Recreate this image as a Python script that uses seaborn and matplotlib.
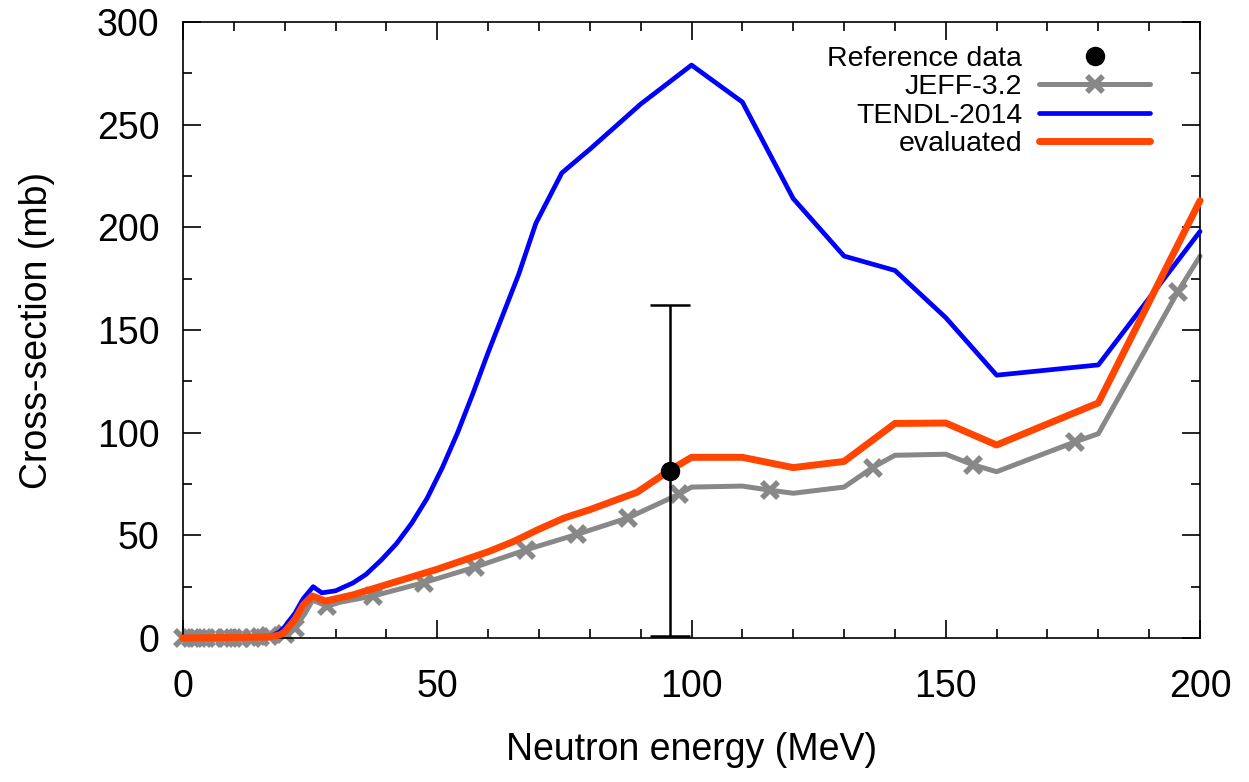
import numpy as np
import pandas as pd
import seaborn as sns
import matplotlib.pyplot as plt
from matplotlib.ticker import MultipleLocator
from matplotlib.lines import Line2D

# reference measurement
ref_e = [95.8]
ref_xs = [81.5]
ref_err = [80.7]

# JEFF-3.2
jeff_e = [0, 1.5, 3, 4.6, 6.3, 8.2, 9.8, 11.5, 13.5, 15.2, 17, 20, 22, 24, 25.5, 28.3, 31,
          37.4, 47.4, 57.4, 67.5, 77.5, 87.5, 97.5, 100, 110, 115.4, 120, 130, 135.6, 140,
          150, 155.4, 160, 175.4, 180, 195.6, 200]
jeff_xs = [0, 0, 0, 0, 0, 0, 0, 0, 0, 0.3, 0.8, 2, 5, 12, 18.5, 15.5, 17.5,
           20.5, 27, 34.5, 43, 50.5, 58.5, 70, 73.5, 74, 72, 70.5, 73.5, 83, 89,
           89.5, 84.3, 81, 95.5, 99.5, 168.5, 186]
jeff_marked = [0, 1.5, 3, 4.6, 6.3, 8.2, 9.8, 11.5, 13.5, 15.2, 17, 20, 22, 28.3,
               37.4, 47.4, 57.4, 67.5, 77.5, 87.5, 97.5, 115.4, 135.6, 155.4, 175.4, 195.6]

# TENDL-2014
tendl_e = [0, 17, 19, 20, 22, 23.6, 25.6, 27.3, 30, 33.4, 36, 39, 42, 45, 48, 51, 54, 57,
           60, 63, 66, 69.4, 74.5, 80, 90, 100, 110, 120, 130, 140, 150, 160, 180, 200]
tendl_xs = [0, 0.5, 3, 5.5, 12, 19, 25, 22, 23, 26.8, 31, 38, 46, 56, 68, 83, 100, 119,
            139, 158, 177, 202, 226.5, 238, 260, 279, 261, 214, 186, 179, 156, 128, 133, 198]

# evaluated
eval_e = [0, 17, 19, 20, 22, 23.6, 25.4, 28, 33.4, 40, 50, 60, 65, 70, 75, 80, 89.3, 95.8,
          100, 110, 120, 130, 140, 150, 160, 180, 200]
eval_xs = [0, 0.5, 1.5, 3, 9, 16, 20.5, 18, 21, 26, 33.5, 42, 47, 53, 58.5, 62.5, 71, 81.8,
           88, 88, 83, 86, 104.5, 104.7, 94, 114.5, 213]

sns.set_theme(style="ticks")
plt.rcParams['font.family'] = ['Liberation Sans', 'DejaVu Sans']
plt.rcParams['text.color'] = 'black'
plt.rcParams['axes.labelcolor'] = 'black'

GRAY = "#888888"
BLUE = "#0000ff"
ORANGE = "#ff4500"

df_jeff = pd.DataFrame({"E": jeff_e, "xs": jeff_xs})
df_tendl = pd.DataFrame({"E": tendl_e, "xs": tendl_xs})
df_eval = pd.DataFrame({"E": eval_e, "xs": eval_xs})

fig = plt.figure(figsize=(12.49, 7.82), dpi=100)
ax = fig.add_axes([0.1465, 0.1841, 0.8143, 0.7878])

mark_idx = [jeff_e.index(e) for e in jeff_marked]
sns.lineplot(data=df_jeff, x="E", y="xs", ax=ax, color=GRAY, lw=3.6, marker="x",
             markersize=12, markeredgewidth=4, markeredgecolor=GRAY,
             markevery=mark_idx, sort=False, estimator=None, zorder=2, clip_on=False)
sns.lineplot(data=df_tendl, x="E", y="xs", ax=ax, color=BLUE, lw=3.4, sort=False,
             estimator=None, zorder=3, clip_on=False)
sns.lineplot(data=df_eval, x="E", y="xs", ax=ax, color=ORANGE, lw=5.0, sort=False,
             estimator=None, zorder=4, clip_on=False)
ax.errorbar(ref_e, ref_xs, yerr=ref_err, fmt="o", color="black", ms=13, elinewidth=1.8,
            capsize=14.5, capthick=1.8, zorder=5)

ax.set_xlim(0, 200)
ax.set_ylim(0, 300)
ax.xaxis.set_major_locator(MultipleLocator(50))
ax.xaxis.set_minor_locator(MultipleLocator(10))
ax.yaxis.set_major_locator(MultipleLocator(50))
ax.yaxis.set_minor_locator(MultipleLocator(25))
ax.tick_params(which="both", direction="in", top=True, right=True, width=1.2, colors="black")
ax.tick_params(which="major", length=13, labelsize=27)
ax.tick_params(which="minor", length=6.5)
ax.tick_params(axis="x", which="major", pad=22)
ax.tick_params(axis="y", which="major", pad=17)
for s in ax.spines.values():
    s.set_linewidth(1.2)
    s.set_color("black")

ax.set_xlabel("Neutron energy (MeV)", fontsize=27, labelpad=20)
ax.set_ylabel("Cross-section (mb)", fontsize=27, labelpad=30)

handles = [
    Line2D([], [], color="black", marker="o", ms=13, ls="none"),
    Line2D([0, 0.5, 1], [0, 0, 0], color=GRAY, lw=3.6, marker="x", ms=12, mew=4,
           markevery=[1]),
    Line2D([], [], color=BLUE, lw=3.4),
    Line2D([], [], color=ORANGE, lw=5.0),
]
labels = ["Reference data", "JEFF-3.2", "TENDL-2014", "evaluated"]
ax.legend(handles, labels, loc="upper right", bbox_to_anchor=(0.975, 1.0), frameon=False,
          markerfirst=False, fontsize=20.5, handlelength=3.9, labelspacing=0.08,
          handletextpad=0.6, borderaxespad=0.45)

plt.savefig("out.png", dpi=100)
